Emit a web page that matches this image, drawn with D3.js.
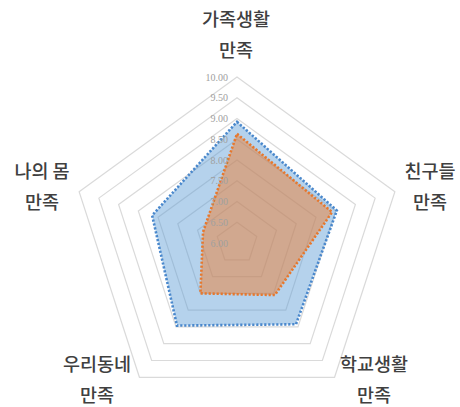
<!DOCTYPE html>
<html>
<head>
<meta charset="utf-8">
<script src="https://cdn.jsdelivr.net/npm/d3@7"></script>
<style>
  html, body { margin: 0; padding: 0; background: #fff; }
  svg { display: block; }
</style>
</head>
<body>
<script>
// chart values
var categories = [['가족생활', '만족'], ['친구들', '만족'], ['학교생활', '만족'], ['우리동네', '만족'], ['나의 몸', '만족']]
var seriesA = [8.92, 8.53, 8.42, 8.46, 8.15]   // blue
var seriesB = [8.63, 8.41, 7.55, 7.50, 6.86]   // orange
var ticks = [6.00, 6.50, 7.00, 7.50, 8.00, 8.50, 9.00, 9.50, 10.00]

var width = 460, height = 407
var cx = 237, cy = 243

var svg = d3.select('body').append('svg').
  attr('width', width).
  attr('height', height)

var r = d3.scaleLinear().domain([6, 10]).range([0, 166])

var angle = d3.scaleLinear().domain([0, categories.length]).range([0, 2 * Math.PI])

function point (i, v) {
  var a = angle(i)
  return [cx + r(v) * Math.sin(a), cy - r(v) * Math.cos(a)]
}

var line = d3.line().curve(d3.curveLinearClosed)

// grid pentagons
svg.append('g').
  selectAll('path').
  data(ticks.slice(1)).
  enter().
  append('path').
  attr('d', function (t) {
    return line(categories.map(function (c, i) { return point(i, t) }))
  }).
  attr('fill', 'none').
  attr('stroke', '#dadada').
  attr('stroke-width', 1.2)

// series
var series = [
  {values: seriesA, fill: '#5b9bd5', fillOpacity: 0.45, stroke: '#4a88cc'},
  {values: seriesB, fill: '#ed7d31', fillOpacity: 0.5, stroke: '#e6782e'}
]

svg.append('g').
  selectAll('path').
  data(series).
  enter().
  append('path').
  attr('d', function (s) {
    return line(s.values.map(function (v, i) { return point(i, v) }))
  }).
  attr('fill', function (s) { return s.fill }).
  attr('fill-opacity', function (s) { return s.fillOpacity }).
  attr('stroke', function (s) { return s.stroke }).
  attr('stroke-width', 2.6).
  attr('stroke-dasharray', '2.2,1.8').
  attr('stroke-linejoin', 'miter')

// tick labels
svg.append('g').
  selectAll('text').
  data(ticks).
  enter().
  append('text').
  attr('x', cx - 9).
  attr('y', function (t) { return cy - r(t) }).
  attr('dy', '0.35em').
  attr('text-anchor', 'end').
  attr('font-family', 'Liberation Serif, serif').
  attr('font-size', 10).
  attr('fill', '#a0a0a0').
  text(function (t) { return t.toFixed(2) })

// category labels
var labelPos = [[236, 20], [430, 172], [374, 365], [97, 365], [42, 172]]

var labels = svg.append('g').
  selectAll('text').
  data(categories).
  enter().
  append('text').
  attr('text-anchor', 'middle').
  attr('font-family', 'Noto Sans CJK KR, sans-serif').
  attr('font-size', 18.5).
  attr('font-weight', 500).
  attr('fill', '#404040').
  attr('x', function (d, i) { return labelPos[i][0] }).
  attr('y', function (d, i) { return labelPos[i][1] })

labels.selectAll('tspan').
  data(function (d) { return d }).
  enter().
  append('tspan').
  attr('x', function () { return this.parentNode.getAttribute('x') }).
  attr('dy', function (d, j) { return j === 0 ? '0.35em' : 31 }).
  text(function (d) { return d })
</script>
</body>
</html>
